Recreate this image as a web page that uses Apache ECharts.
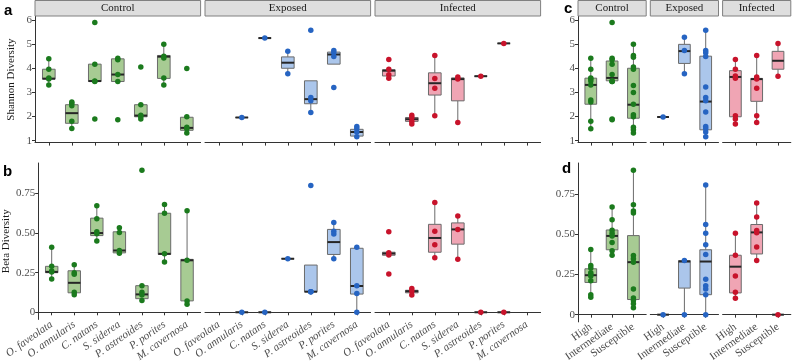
<!DOCTYPE html>
<html><head><meta charset="utf-8">
<script src="https://cdn.jsdelivr.net/npm/echarts@6/dist/echarts.min.js"></script>
<style>html,body{margin:0;padding:0;background:#fff}#c{width:792px;height:364px}</style>
</head><body><div id="c"></div>
<script>
// ---------- categories ----------
const SPECIES = ['O. faveolata','O. annularis','C. natans','S. siderea','P. astreoides','P. porites','M. cavernosa'];
const RESIST = ['High','Intermediate','Susceptible'];
const TREAT = ['Control','Exposed','Infected'];
const SHANNON_TICKS = [1,2,3,4,5,6];
const BETA_TICKS = [0,0.25,0.5,0.75];

// ---------- panel a: Shannon diversity by species ----------
// boxes: [lowerWhisker, Q1, median, Q3, upperWhisker]
const shanCtrlBox = [[3.31,3.55,3.57,3.96,4.39],[1.5,1.72,2.14,2.49,2.6],[3.45,3.45,3.47,4.17,4.17],[3.45,3.45,3.74,4.39,4.39],[1.9,1.99,2.04,2.49,2.49],[3.31,3.58,4.48,4.53,4.99],[1.32,1.43,1.53,1.97,1.99]];
const shanCtrlPts = [[4.39,3.96,3.6,3.55,3.31],[2.6,2.55,2.45,1.8,1.5],[5.9,4.17,3.47,3.45,1.9],[4.41,4.35,3.74,3.45,1.87],[4.05,2.49,2.05,2.0,1.9],[4.99,4.5,4.42,3.6,3.31],[3.99,1.99,1.56,1.49,1.32]];
const shanExpBox = [null,[1.96,1.96,1.96,1.96,1.96],[5.25,5.25,5.25,5.25,5.25],[3.77,4.0,4.23,4.47,4.7],[2.17,2.53,2.72,3.48,3.48],[4.17,4.17,4.57,4.67,4.74],[1.16,1.19,1.36,1.47,1.59]];
const shanExpPts = [[],[1.96],[5.25],[4.7,3.77],[5.57,2.79,2.65,2.17],[4.74,4.64,4.49,3.2],[1.59,1.49,1.36,1.16]];
const shanInfBox = [[3.59,3.68,3.9,3.94,3.96],[1.69,1.8,1.89,1.96,2.05],[2.03,2.89,3.38,3.81,4.53],[1.75,2.65,3.55,3.6,3.64],[3.67,3.67,3.67,3.67,3.67],[5.03,5.03,5.03,5.03,5.03],null];
const shanInfPts = [[4.36,3.96,3.73,3.59],[2.05,1.96,1.8,1.69],[4.53,3.58,3.17,2.03],[3.64,3.55,1.75],[3.67],[5.03],[]];

// ---------- panel b: Beta diversity by species ----------
const betaCtrlBox = [[0.21,0.25,0.255,0.29,0.41],[0.11,0.123,0.186,0.262,0.30],[0.45,0.484,0.5,0.594,0.672],[0.373,0.375,0.39,0.508,0.533],[0.074,0.086,0.113,0.168,0.168],[0.318,0.365,0.369,0.625,0.68],[0.051,0.072,0.328,0.334,0.64]];
const betaCtrlPts = [[0.41,0.29,0.26,0.255,0.21],[0.30,0.25,0.24,0.127,0.11],[0.672,0.59,0.508,0.496,0.45],[0.533,0.504,0.39,0.373],[0.897,0.168,0.127,0.109,0.074],[0.68,0.625,0.369,0.318],[0.64,0.328,0.072,0.051]];
const betaExpBox = [null,[0,0,0,0,0],[0,0,0,0,0],[0.338,0.338,0.338,0.338,0.338],[0.13,0.13,0.13,0.298,0.298],[0.338,0.365,0.443,0.523,0.566],[0,0.115,0.166,0.404,0.41]];
const betaExpPts = [[],[0],[0],[0.338],[0.8,0.13,0.13,0.13],[0.566,0.512,0.494,0.338],[0.41,0.168,0.119,0]];
const betaInfBox = [[0.36,0.36,0.371,0.379,0.379],[0.109,0.123,0.133,0.139,0.15],[0.344,0.379,0.469,0.555,0.693],[0.334,0.43,0.523,0.564,0.607],[0,0,0,0,0],[0,0,0,0,0],null];
const betaInfPts = [[0.508,0.375,0.362,0.242],[0.15,0.135,0.109],[0.693,0.512,0.426,0.344],[0.607,0.523,0.334],[0],[0],[]];

// ---------- panel c: Shannon diversity by resistance ----------
const shanResCtrlBox = [[1.49,2.51,3.31,3.59,4.41],[3.45,3.48,3.6,4.3,4.41],[1.32,1.93,2.49,4.0,4.99]];
const shanResCtrlPts = [[4.41,3.96,3.6,3.55,3.47,3.31,2.68,2.6,1.8,1.49],[5.9,4.41,4.35,4.17,3.74,3.47,3.45,3.45,1.9,1.87],[4.99,4.53,4.46,4.05,3.96,3.29,3.0,2.51,2.07,1.99,1.56,1.45,1.32]];
const shanResExpBox = [[1.98,1.98,1.98,1.98,1.98],[3.77,4.2,4.71,4.99,5.28],[1.16,1.45,2.62,4.5,5.57]];
const shanResExpPts = [[1.98],[5.28,4.74,3.77],[5.57,4.74,4.64,4.49,3.22,2.79,2.65,2.19,1.59,1.49,1.36,1.16]];
const shanResInfBox = [[1.69,1.99,3.64,3.9,4.36],[1.75,2.63,3.55,3.58,4.53],[3.67,3.96,4.31,4.7,5.03]];
const shanResInfPts = [[4.36,3.96,3.68,3.59,2.03,1.9,1.69],[4.53,3.64,3.55,3.17,2.03,1.75],[5.03,3.67]];

// ---------- panel d: Beta diversity by resistance ----------
const betaResCtrlBox = [[0.108,0.2,0.245,0.285,0.405],[0.369,0.403,0.489,0.526,0.668],[0.043,0.094,0.326,0.491,0.897]];
const betaResCtrlPts = [[0.405,0.306,0.29,0.26,0.25,0.24,0.21,0.124,0.108],[0.668,0.59,0.524,0.505,0.489,0.448,0.397,0.369],[0.897,0.683,0.644,0.632,0.367,0.348,0.326,0.159,0.104,0.088,0.067,0.043]];
const betaResExpBox = [[0,0,0,0,0],[0,0.165,0.33,0.336,0.336],[0,0.124,0.33,0.403,0.805]];
const betaResExpPts = [[0],[0.336,0],[0.805,0.56,0.505,0.434,0.373,0.22,0.179,0.159,0.124,0]];
const betaResInfBox = [[0.102,0.135,0.298,0.369,0.505],[0.336,0.377,0.511,0.56,0.693],[0,0,0,0,0]];
const betaResInfPts = [[0.505,0.369,0.24,0.139,0.102],[0.693,0.607,0.522,0.509,0.42,0.336],[0]];

// ---------- styling / layout ----------
const PT_COLORS = ['#1b7a1d','#2664c2','#c8132b'];
const BOX_FILLS = ['#a7cb93','#abc6eb','#f0a5b4'];
const FONT = 'Liberation Serif';
const ROW_A = {top: 16.6, height: 126};
const ROW_B = {top: 163, height: 159};
const SP_LEFTS = [35, 205, 375], SP_W = 165.6;
const RS_LEFTS = [578, 650.3, 722.6], RS_W = 68.2;
const SHAN_RANGE = [0.92, 6.14];
const BETA_RANGE = [-0.045, 0.942];

const option = {animation: false, grid: [], xAxis: [], yAxis: [], series: [], graphic: []};

function addFacet(cfg) {
  const gi = option.grid.length;
  option.grid.push({left: cfg.left, top: cfg.row.top, width: cfg.width, height: cfg.row.height, containLabel: false});
  const n = cfg.cats.length;
  const idx = cfg.cats.map((c, i) => i + 1);
  option.xAxis.push({
    type: 'value', gridIndex: gi, min: 0.4, max: n + 0.6,
    axisLine: {show: true, lineStyle: {color: '#333', width: 1}},
    axisTick: {show: true, customValues: idx, length: 3, lineStyle: {color: '#333'}},
    axisLabel: {show: cfg.xLabels, customValues: idx, rotate: 35, margin: 4,
      fontFamily: FONT, fontSize: 11, color: '#4d4d4d', fontStyle: cfg.italic ? 'italic' : 'normal',
      formatter: v => cfg.cats[Math.round(v) - 1] || ''},
    splitLine: {show: false}
  });
  option.yAxis.push({
    type: 'value', gridIndex: gi, min: cfg.yRange[0], max: cfg.yRange[1],
    show: cfg.showY,
    name: cfg.yName || '', nameLocation: 'middle', nameGap: 18, nameRotate: 90,
    nameTextStyle: {fontFamily: FONT, fontSize: 11, color: '#1a1a1a'},
    axisLine: {show: true, lineStyle: {color: '#333', width: 1}},
    axisTick: {show: true, customValues: cfg.yTicks, length: 3, lineStyle: {color: '#333'}},
    axisLabel: {show: true, customValues: cfg.yTicks, margin: 3, fontFamily: FONT, fontSize: 11, color: '#4d4d4d',
      formatter: cfg.yFmt},
    splitLine: {show: false}
  });
  const boxData = [];
  cfg.box.forEach((b, i) => { if (b) boxData.push([i + 1].concat(b)); });
  const ptData = [];
  cfg.pts.forEach((arr, i) => arr.forEach(v => ptData.push([i + 1, v])));
  const fill = cfg.fill;
  option.series.push({
    type: 'custom', xAxisIndex: gi, yAxisIndex: gi, data: boxData, z: 2,
    encode: {x: 0, y: [1, 2, 3, 4, 5]},
    renderItem: function (params, api) {
      const x = api.value(0);
      const lo = api.coord([x, api.value(1)]);
      const q1 = api.coord([x, api.value(2)]);
      const md = api.coord([x, api.value(3)]);
      const q3 = api.coord([x, api.value(4)]);
      const hi = api.coord([x, api.value(5)]);
      const hw = api.size([0.55, 0])[0] / 2;
      const gray = '#6b6b6b';
      return {type: 'group', children: [
        {type: 'line', shape: {x1: lo[0], y1: lo[1], x2: q1[0], y2: q1[1]}, style: {stroke: gray, lineWidth: 1}},
        {type: 'line', shape: {x1: q3[0], y1: q3[1], x2: hi[0], y2: hi[1]}, style: {stroke: gray, lineWidth: 1}},
        {type: 'rect', shape: {x: q1[0] - hw, y: q3[1], width: 2 * hw, height: q1[1] - q3[1]},
          style: {fill: fill, stroke: gray, lineWidth: 1}},
        {type: 'line', shape: {x1: md[0] - hw, y1: md[1], x2: md[0] + hw, y2: md[1]}, style: {stroke: '#262626', lineWidth: 2}}
      ]};
    }
  });
  option.series.push({
    type: 'scatter', xAxisIndex: gi, yAxisIndex: gi, data: ptData, z: 3,
    symbolSize: 5.5, itemStyle: {color: cfg.color, opacity: 1}
  });
}

function addStrip(left, width, text) {
  option.graphic.push({type: 'rect', shape: {x: left, y: 0.5, width: width, height: 15.5},
    style: {fill: '#dedede', stroke: '#808080', lineWidth: 1}});
  option.graphic.push({type: 'text', x: left + width / 2, y: 8.6,
    style: {text: text, font: '11px "Liberation Serif"', fill: '#1a1a1a', align: 'center', verticalAlign: 'middle'}});
}

const shanFmt = v => String(v);
const betaFmt = v => v === 0 ? '0' : v.toFixed(2);

const speciesPanels = [
  [shanCtrlBox, shanCtrlPts, betaCtrlBox, betaCtrlPts],
  [shanExpBox, shanExpPts, betaExpBox, betaExpPts],
  [shanInfBox, shanInfPts, betaInfBox, betaInfPts]
];
const resistPanels = [
  [shanResCtrlBox, shanResCtrlPts, betaResCtrlBox, betaResCtrlPts],
  [shanResExpBox, shanResExpPts, betaResExpBox, betaResExpPts],
  [shanResInfBox, shanResInfPts, betaResInfBox, betaResInfPts]
];

speciesPanels.forEach((p, t) => {
  addFacet({left: SP_LEFTS[t], width: SP_W, row: ROW_A, cats: SPECIES, box: p[0], pts: p[1],
    color: PT_COLORS[t], fill: BOX_FILLS[t], yRange: SHAN_RANGE, yTicks: SHANNON_TICKS, yFmt: shanFmt,
    showY: t === 0, yName: 'Shannon Diversity', xLabels: false, italic: true});
  addFacet({left: SP_LEFTS[t], width: SP_W, row: ROW_B, cats: SPECIES, box: p[2], pts: p[3],
    color: PT_COLORS[t], fill: BOX_FILLS[t], yRange: BETA_RANGE, yTicks: BETA_TICKS, yFmt: betaFmt,
    showY: t === 0, yName: 'Beta Diversity', xLabels: true, italic: true});
  addStrip(SP_LEFTS[t], SP_W, TREAT[t]);
});
resistPanels.forEach((p, t) => {
  addFacet({left: RS_LEFTS[t], width: RS_W, row: ROW_A, cats: RESIST, box: p[0], pts: p[1],
    color: PT_COLORS[t], fill: BOX_FILLS[t], yRange: SHAN_RANGE, yTicks: SHANNON_TICKS, yFmt: shanFmt,
    showY: t === 0, yName: '', xLabels: false, italic: false});
  addFacet({left: RS_LEFTS[t], width: RS_W, row: ROW_B, cats: RESIST, box: p[2], pts: p[3],
    color: PT_COLORS[t], fill: BOX_FILLS[t], yRange: BETA_RANGE, yTicks: BETA_TICKS, yFmt: betaFmt,
    showY: t === 0, yName: '', xLabels: true, italic: false});
  addStrip(RS_LEFTS[t], RS_W, TREAT[t]);
});

[['a', 4, 10.5], ['b', 3, 172], ['c', 564, 9], ['d', 562, 169]].forEach(([txt, x, y]) => {
  option.graphic.push({type: 'text', x: x, y: y,
    style: {text: txt, font: 'bold 15px "Liberation Sans"', fill: '#000', align: 'left', verticalAlign: 'middle'}});
});

const chart = echarts.init(document.getElementById('c'), null, {renderer: 'canvas'});
chart.setOption(option);
</script></body></html>
